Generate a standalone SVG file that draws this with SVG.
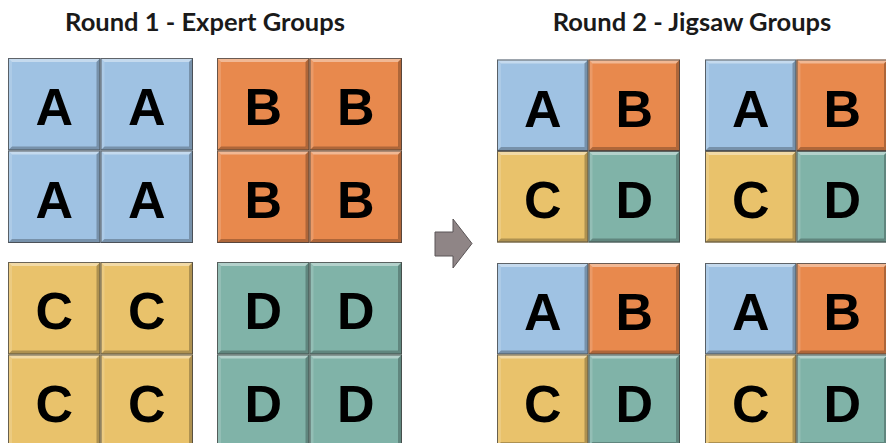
<svg xmlns="http://www.w3.org/2000/svg" xmlns:xlink="http://www.w3.org/1999/xlink" width="886" height="443" viewBox="0 0 886 443">
<style>
.title{font-family:Lato,"Open Sans","Liberation Sans",sans-serif;font-weight:bold;font-size:25.5px;fill:#1a1a1a;text-anchor:middle}
.L{font-family:"Liberation Sans",Arial,sans-serif;font-weight:bold;font-size:52px;fill:#000;text-anchor:middle}
.a{fill:#9fc2e3}.b{fill:#e8894d}.c{fill:#e9c26b}.d{fill:#80b3a8}
.edge{fill:none;stroke:#3c3c3c;stroke-width:1;stroke-opacity:.75}
</style>
<defs>
<g id="bevL">
<polygon points="0,0 92.5,0 88.5,4 4,4" fill="#fff" fill-opacity=".4"/>
<polygon points="0,0 4,4 4,88.5 0,92.5" fill="#fff" fill-opacity=".15"/>
<polygon points="92.5,0 92.5,92.5 88.5,88.5 88.5,4" fill="#000" fill-opacity=".25"/>
<polygon points="0,92.5 92.5,92.5 88.5,88.5 4,88.5" fill="#000" fill-opacity=".25"/>
<rect x="0.5" y="0.5" width="91.5" height="91.5" class="edge"/>
</g>
<g id="bevR">
<polygon points="0,0 91.5,0 87.5,4 4,4" fill="#fff" fill-opacity=".4"/>
<polygon points="0,0 4,4 4,87.5 0,91.5" fill="#fff" fill-opacity=".15"/>
<polygon points="91.5,0 91.5,91.5 87.5,87.5 87.5,4" fill="#000" fill-opacity=".25"/>
<polygon points="0,91.5 91.5,91.5 87.5,87.5 4,87.5" fill="#000" fill-opacity=".25"/>
<rect x="0.5" y="0.5" width="90.5" height="90.5" class="edge"/>
</g>
</defs>
<rect width="886" height="443" fill="#fff"/>
<text class="title" x="205" y="31">Round 1 - Expert Groups</text>
<text class="title" x="692" y="31">Round 2 - Jigsaw Groups</text>

<g id="expert-A">
<rect class="a" x="8" y="58" width="92.5" height="92.5"/><use xlink:href="#bevL" x="8" y="58"/><text class="L" x="54.2" y="125">A</text>
<rect class="a" x="100.5" y="58" width="92.5" height="92.5"/><use xlink:href="#bevL" x="100.5" y="58"/><text class="L" x="146.7" y="125">A</text>
<rect class="a" x="8" y="150.5" width="92.5" height="92.5"/><use xlink:href="#bevL" x="8" y="150.5"/><text class="L" x="54.2" y="217.5">A</text>
<rect class="a" x="100.5" y="150.5" width="92.5" height="92.5"/><use xlink:href="#bevL" x="100.5" y="150.5"/><text class="L" x="146.7" y="217.5">A</text>
</g>
<g id="expert-B">
<rect class="b" x="217" y="58" width="92.5" height="92.5"/><use xlink:href="#bevL" x="217" y="58"/><text class="L" x="263.2" y="125">B</text>
<rect class="b" x="309.5" y="58" width="92.5" height="92.5"/><use xlink:href="#bevL" x="309.5" y="58"/><text class="L" x="355.7" y="125">B</text>
<rect class="b" x="217" y="150.5" width="92.5" height="92.5"/><use xlink:href="#bevL" x="217" y="150.5"/><text class="L" x="263.2" y="217.5">B</text>
<rect class="b" x="309.5" y="150.5" width="92.5" height="92.5"/><use xlink:href="#bevL" x="309.5" y="150.5"/><text class="L" x="355.7" y="217.5">B</text>
</g>
<g id="expert-C">
<rect class="c" x="8" y="262" width="92.5" height="92.5"/><use xlink:href="#bevL" x="8" y="262"/><text class="L" x="54.2" y="329">C</text>
<rect class="c" x="100.5" y="262" width="92.5" height="92.5"/><use xlink:href="#bevL" x="100.5" y="262"/><text class="L" x="146.7" y="329">C</text>
<rect class="c" x="8" y="354.5" width="92.5" height="92.5"/><use xlink:href="#bevL" x="8" y="354.5"/><text class="L" x="54.2" y="421.5">C</text>
<rect class="c" x="100.5" y="354.5" width="92.5" height="92.5"/><use xlink:href="#bevL" x="100.5" y="354.5"/><text class="L" x="146.7" y="421.5">C</text>
</g>
<g id="expert-D">
<rect class="d" x="217" y="262" width="92.5" height="92.5"/><use xlink:href="#bevL" x="217" y="262"/><text class="L" x="263.2" y="329">D</text>
<rect class="d" x="309.5" y="262" width="92.5" height="92.5"/><use xlink:href="#bevL" x="309.5" y="262"/><text class="L" x="355.7" y="329">D</text>
<rect class="d" x="217" y="354.5" width="92.5" height="92.5"/><use xlink:href="#bevL" x="217" y="354.5"/><text class="L" x="263.2" y="421.5">D</text>
<rect class="d" x="309.5" y="354.5" width="92.5" height="92.5"/><use xlink:href="#bevL" x="309.5" y="354.5"/><text class="L" x="355.7" y="421.5">D</text>
</g>

<g id="connectors">
<polygon points="435,232 453,232 453,219 472,243.5 453,268 453,256 435,256" fill="#8f8586" stroke="#5a5456" stroke-width="1"/>
</g>

<g id="jigsaw-1">
<rect class="a" x="497" y="59.5" width="91.5" height="91.5"/><use xlink:href="#bevR" x="497" y="59.5"/><text class="L" x="542.7" y="126.5">A</text>
<rect class="b" x="588.5" y="59.5" width="91.5" height="91.5"/><use xlink:href="#bevR" x="588.5" y="59.5"/><text class="L" x="634.2" y="126.5">B</text>
<rect class="c" x="497" y="151" width="91.5" height="91.5"/><use xlink:href="#bevR" x="497" y="151"/><text class="L" x="542.7" y="218">C</text>
<rect class="d" x="588.5" y="151" width="91.5" height="91.5"/><use xlink:href="#bevR" x="588.5" y="151"/><text class="L" x="634.2" y="218">D</text>
</g>
<g id="jigsaw-2">
<rect class="a" x="705" y="59.5" width="91.5" height="91.5"/><use xlink:href="#bevR" x="705" y="59.5"/><text class="L" x="750.7" y="126.5">A</text>
<rect class="b" x="796.5" y="59.5" width="91.5" height="91.5"/><use xlink:href="#bevR" x="796.5" y="59.5"/><text class="L" x="842.2" y="126.5">B</text>
<rect class="c" x="705" y="151" width="91.5" height="91.5"/><use xlink:href="#bevR" x="705" y="151"/><text class="L" x="750.7" y="218">C</text>
<rect class="d" x="796.5" y="151" width="91.5" height="91.5"/><use xlink:href="#bevR" x="796.5" y="151"/><text class="L" x="842.2" y="218">D</text>
</g>
<g id="jigsaw-3">
<rect class="a" x="497" y="263" width="91.5" height="91.5"/><use xlink:href="#bevR" x="497" y="263"/><text class="L" x="542.7" y="330">A</text>
<rect class="b" x="588.5" y="263" width="91.5" height="91.5"/><use xlink:href="#bevR" x="588.5" y="263"/><text class="L" x="634.2" y="330">B</text>
<rect class="c" x="497" y="354.5" width="91.5" height="91.5"/><use xlink:href="#bevR" x="497" y="354.5"/><text class="L" x="542.7" y="421.5">C</text>
<rect class="d" x="588.5" y="354.5" width="91.5" height="91.5"/><use xlink:href="#bevR" x="588.5" y="354.5"/><text class="L" x="634.2" y="421.5">D</text>
</g>
<g id="jigsaw-4">
<rect class="a" x="705" y="263" width="91.5" height="91.5"/><use xlink:href="#bevR" x="705" y="263"/><text class="L" x="750.7" y="330">A</text>
<rect class="b" x="796.5" y="263" width="91.5" height="91.5"/><use xlink:href="#bevR" x="796.5" y="263"/><text class="L" x="842.2" y="330">B</text>
<rect class="c" x="705" y="354.5" width="91.5" height="91.5"/><use xlink:href="#bevR" x="705" y="354.5"/><text class="L" x="750.7" y="421.5">C</text>
<rect class="d" x="796.5" y="354.5" width="91.5" height="91.5"/><use xlink:href="#bevR" x="796.5" y="354.5"/><text class="L" x="842.2" y="421.5">D</text>
</g>
</svg>
